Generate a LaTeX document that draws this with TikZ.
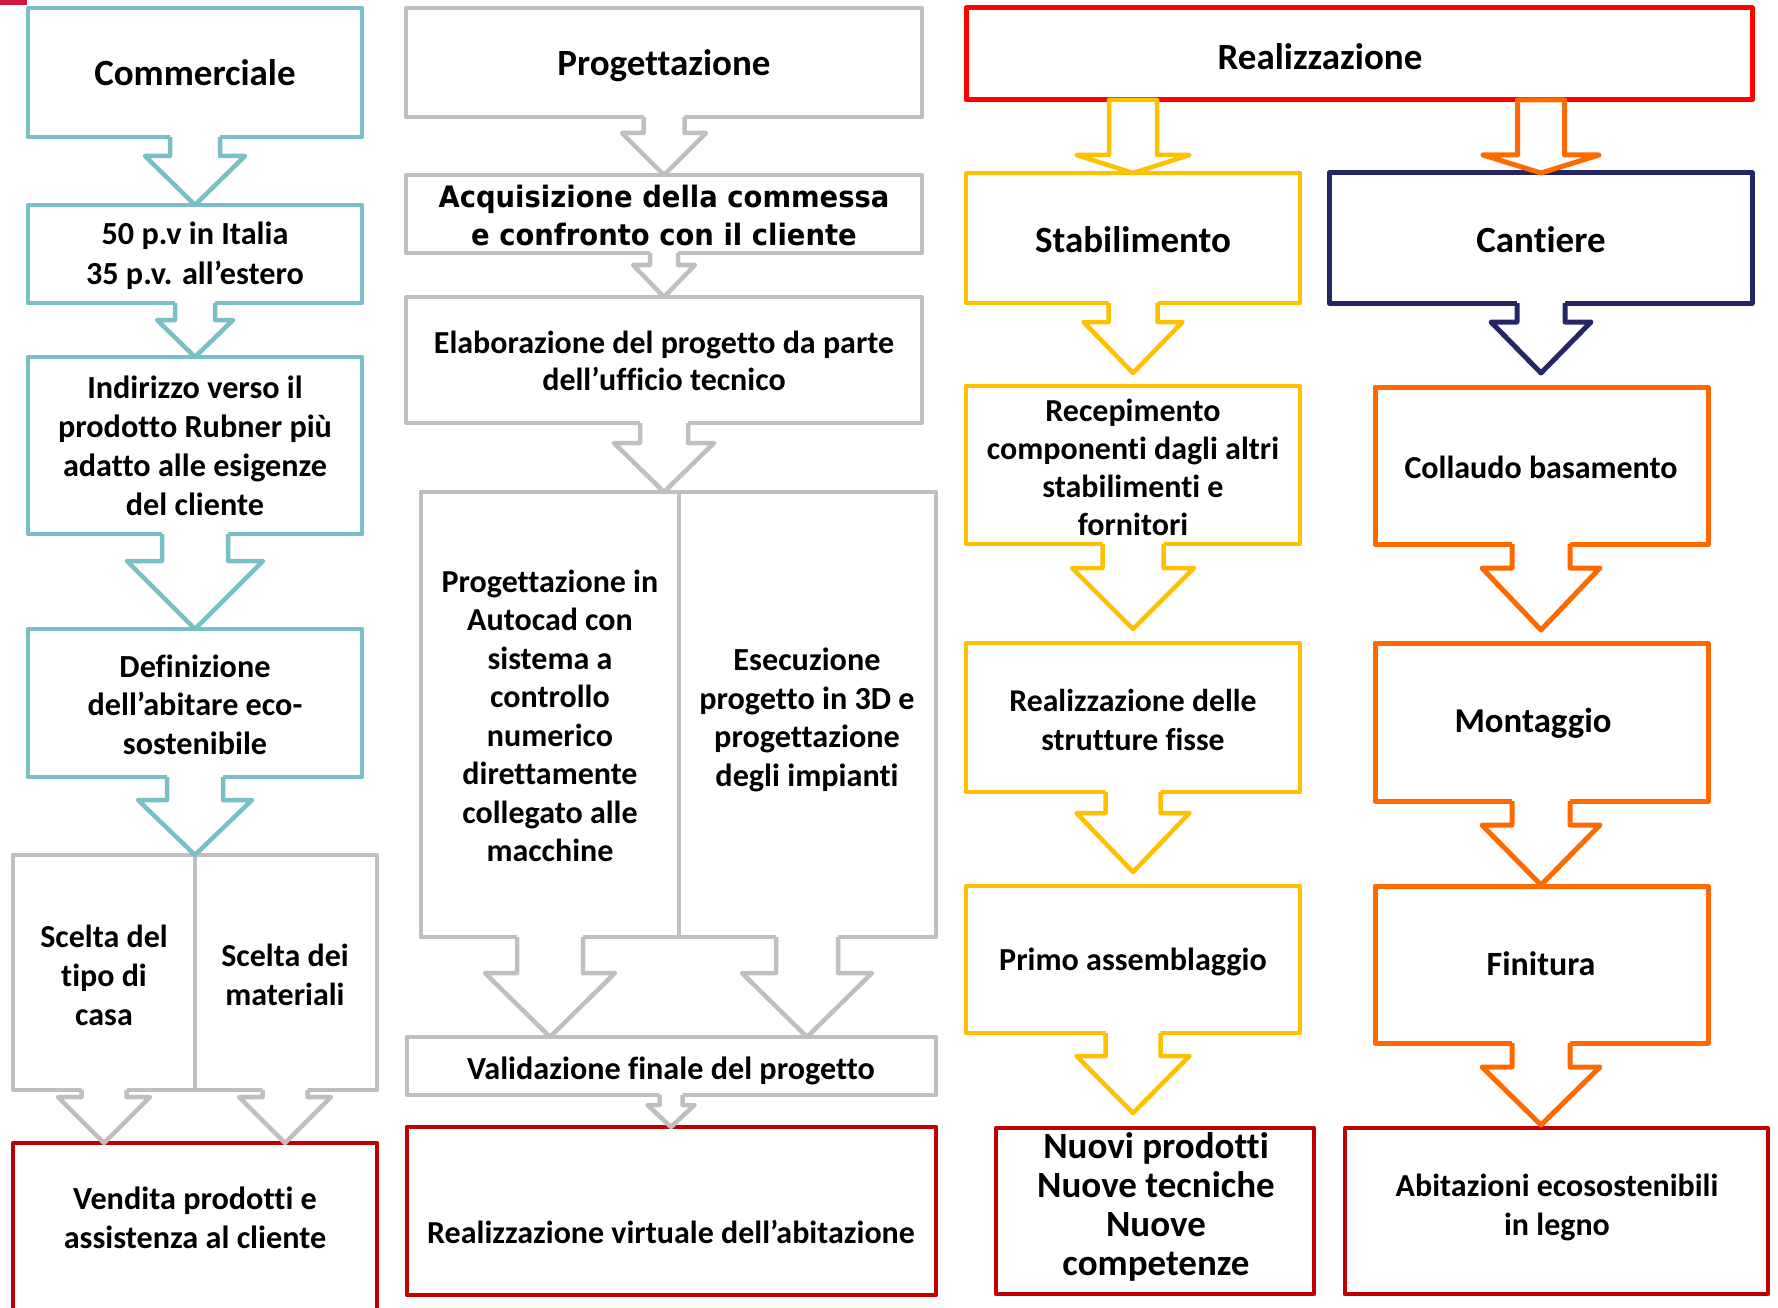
\documentclass[tikz,border=0pt]{standalone}
\usepackage{fontspec}
\setmainfont{Carlito}[Ligatures=NoCommon]
\newfontfamily\verd{DejaVu Sans}[FakeStretch=0.93]
\definecolor{tealc}{RGB}{120,192,198}
\definecolor{grayc}{RGB}{191,191,191}
\definecolor{redc}{RGB}{255,0,0}
\definecolor{yelc}{RGB}{255,192,0}
\definecolor{orgc}{RGB}{255,106,0}
\definecolor{navyc}{RGB}{38,38,100}
\definecolor{dredc}{RGB}{192,0,0}
\definecolor{markc}{RGB}{208,24,60}
\tikzset{
  bx/.style={draw, line join=round, inner sep=0pt, outer sep=0pt, fill=white},
  tx/.style 2 args={font={\fontsize{#1}{#2}\selectfont\bfseries}, align=center, inner sep=0pt, text=black},
}
% box node: name, colour, L, T, R, B, line width
\newcommand\bx[7]{%
  \node[bx, draw=#2, line width=#7pt, minimum width={(#5)-(#3)}, minimum height={(#6)-(#4)}]
    (#1) at ({((#3)+(#5))/2},{((#4)+(#6))/2}) {};}
% open block arrow leaving the bottom of a box: colour, source, cx, stem half, head half, shoulder y, tip y, lw
\newcommand\arr[8]{%
  \pgfmathsetmacro\aL{#3-#4}\pgfmathsetmacro\aR{#3+#4}%
  \pgfmathsetmacro\hL{#3-#5}\pgfmathsetmacro\hR{#3+#5}%
  \fill[white] (\aL,0 |- #2.south) ++(0,-3) -- ++({2*#4},0) -- (\aR,#6) -- (\hR,#6) -- (#3,#7) -- (\hL,#6) -- (\aL,#6) -- cycle;
  \draw[#1, line width=#8pt, line join=round, line cap=square]
    (\aL,0 |- #2.south) -- (\aL,#6) -- (\hL,#6) -- (#3,#7) -- (\hR,#6) -- (\aR,#6) -- (\aR,0 |- #2.south);}
% closed block arrow
\newcommand\carr[8]{%
  \pgfmathsetmacro\aL{#3-#4}\pgfmathsetmacro\aR{#3+#4}%
  \pgfmathsetmacro\hL{#3-#5}\pgfmathsetmacro\hR{#3+#5}%
  \filldraw[fill=white, draw=#1, line width=#8pt, line join=round]
    (\aL,0 |- #2.south) -- (\aL,#6) -- (\hL,#6) -- (#3,#7) -- (\hR,#6) -- (\aR,#6) -- (\aR,0 |- #2.south) -- cycle;}
\begin{document}
\begin{tikzpicture}[x=1pt,y=-1pt]
\fill[white] (0,0) rectangle (1778,1308);
\useasboundingbox (0,0) rectangle (1778,1308);
\fill[markc] (0,0) rectangle (27,5);
% ---------- left column ----------
\bx{comm}{tealc}{28}{8}{362}{137}{4.5}
\bx{pv}{tealc}{28}{205}{362}{303}{4.5}
\bx{ind}{tealc}{28}{357}{362}{534}{4.5}
\bx{def}{tealc}{28}{629}{362}{777}{4.5}
\bx{sca}{grayc}{13}{855}{195}{1090}{4.5}
\bx{scb}{grayc}{195}{855}{377}{1090}{4.5}
\bx{vend}{dredc}{13}{1143}{377}{1340}{4.5}
% ---------- middle column ----------
\bx{prog}{grayc}{406}{8}{922}{117}{4.5}
\bx{acq}{grayc}{406}{175}{922}{253}{4.5}
\bx{ela}{grayc}{406}{297}{922}{423}{4.5}
\bx{spa}{grayc}{421}{492}{679}{937}{4.5}
\bx{spb}{grayc}{679}{492}{936}{937}{4.5}
\bx{val}{grayc}{407}{1037}{936}{1095}{4.5}
\bx{rv}{dredc}{407}{1127}{936}{1295}{4.5}
% ---------- right part ----------
\bx{real}{redc}{966}{8}{1752}{100}{5}
\bx{stab}{yelc}{966}{173}{1300}{303}{4.5}
\bx{cant}{navyc}{1329}{173}{1752}{303}{5}
\bx{rec}{yelc}{966}{386}{1300}{544}{4.5}
\bx{coll}{orgc}{1375}{387}{1708}{544}{5}
\bx{rds}{yelc}{966}{643}{1300}{792}{4.5}
\bx{mont}{orgc}{1375}{643}{1708}{801}{5}
\bx{primo}{yelc}{966}{886}{1300}{1033}{4.5}
\bx{fin}{orgc}{1375}{886}{1708}{1043}{5}
\bx{nuovi}{dredc}{996}{1128}{1314}{1294}{4.5}
\bx{abit}{dredc}{1345}{1128}{1768}{1294}{4.5}
% ---------- arrows ----------
\arr{tealc}{comm}{195}{25}{50}{156}{205}{4.5}
\arr{tealc}{pv}{195}{20}{38}{320}{357}{4.5}
\arr{tealc}{ind}{195}{33}{68}{561}{629}{4.5}
\arr{tealc}{def}{195}{28}{57}{800}{855}{4.5}
\arr{grayc}{sca}{104}{22.5}{46}{1097}{1143}{4.5}
\arr{grayc}{scb}{285}{22.5}{46}{1097}{1143}{4.5}
\arr{grayc}{prog}{664}{20.5}{42}{133}{175}{4.5}
\arr{grayc}{acq}{664}{14}{31}{265}{297}{4.5}
\arr{grayc}{ela}{664}{24}{50}{443}{492}{4.5}
\arr{grayc}{spa}{550}{33}{65}{973}{1037}{4.5}
\arr{grayc}{spb}{807}{31}{65}{973}{1037}{4.5}
\arr{grayc}{val}{671}{11.5}{23.5}{1105}{1127}{4.5}
\carr{yelc}{real}{1133}{24}{56.5}{155}{173}{4.5}
\carr{orgc}{real}{1541}{23.5}{58}{155}{173}{5}
\arr{yelc}{stab}{1133}{24.5}{49.5}{322}{373}{4.5}
\arr{navyc}{cant}{1541}{24}{50}{322}{373}{5}
\arr{yelc}{rec}{1133}{30.5}{61}{568}{629}{4.5}
\arr{orgc}{coll}{1541}{29}{59}{568}{630}{5}
\arr{yelc}{rds}{1133}{27.5}{56.5}{813}{872}{4.5}
\arr{orgc}{mont}{1541}{29}{59}{825}{885}{5}
\arr{yelc}{primo}{1133}{27.5}{56.5}{1056}{1113}{4.5}
\arr{orgc}{fin}{1541}{29}{59}{1067}{1125}{5}
% ---------- texts ----------
\node[tx={37}{44}] (tcomm) at (195,73) {Commerciale};
\node[tx={32.2}{40}] (tpv) at (195,256) {50 p.v in Italia\\35 p.v. all’estero};
\node[tx={32.2}{39}] (tind) at (195,446) {Indirizzo verso il\\prodotto Rubner più\\adatto alle esigenze\\del cliente};
\node[tx={32.2}{38.5}] (tdef) at (195,704.5) {Definizione\\dell’abitare eco-\\sostenibile};
\node[tx={32}{39}] (tsca) at (104,975) {Scelta del\\tipo di\\casa};
\node[tx={32}{39}] (tscb) at (285,975) {Scelta dei\\materiali};
\node[tx={32.2}{39}] (tvend) at (195,1218) {Vendita prodotti e\\assistenza al cliente};
\node[tx={37}{44}] (tprog) at (664,66) {Progettazione};
\node[inner sep=0pt, align=center, font={\fontsize{29.5}{38}\selectfont\verd\bfseries}] (tacq) at (664,216) {Acquisizione della commessa\\e confronto con il cliente};
\node[tx={32}{37.5}] (tela) at (664,361) {Elaborazione del progetto da parte\\dell’ufficio tecnico};
\node[tx={32}{38.5}] (tspa) at (550,716) {Progettazione in\\Autocad con\\sistema a\\controllo\\numerico\\direttamente\\collegato alle\\macchine};
\node[tx={32.2}{38.7}] (tspb) at (807,720) {Esecuzione\\progetto in 3D e\\progettazione\\degli impianti};
\node[tx={32.2}{38}] (tval) at (671,1071) {Validazione finale del progetto};
\node[tx={32}{38}] (trv) at (671,1232) {Realizzazione virtuale dell’abitazione};
\node[tx={37}{44}] (treal) at (1320,57) {Realizzazione};
\node[tx={37}{44}] (tstab) at (1133,240) {Stabilimento};
\node[tx={37}{44}] (tcant) at (1541,240) {Cantiere};
\node[tx={32}{38}] (trec) at (1133,467) {Recepimento\\componenti dagli altri\\stabilimenti e\\fornitori};
\node[tx={32}{38}] (tcoll) at (1541,467) {Collaudo basamento};
\node[tx={31.7}{39}] (trds) at (1133,719.5) {Realizzazione delle\\strutture fisse};
\node[tx={34.8}{40}] (tmont) at (1533,723) {Montaggio};
\node[tx={32.1}{38}] (tprimo) at (1133,962) {Primo assemblaggio};
\node[tx={34}{40}] (tfin) at (1541,964) {Finitura};
\node[tx={37}{39}] (tnuovi) at (1156,1207) {Nuovi prodotti\\Nuove tecniche\\Nuove\\competenze};
\node[tx={32}{39}] (tabit) at (1557,1207) {Abitazioni ecosostenibili\\in legno};
\end{tikzpicture}
\end{document}
